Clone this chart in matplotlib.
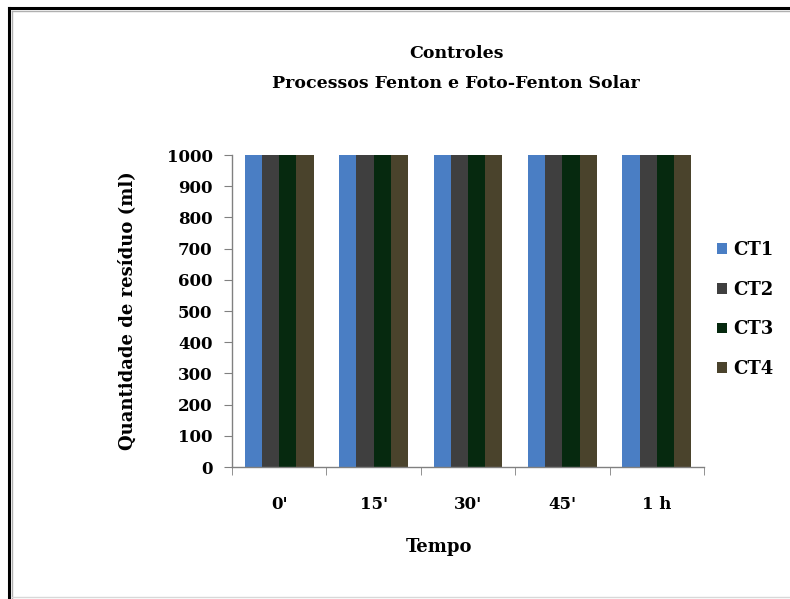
import matplotlib
matplotlib.use("Agg")
import matplotlib.pyplot as plt
import numpy as np
from matplotlib.lines import Line2D

categories = ["0'", "15'", "30'", "45'", "1 h"]
series_names = ["CT1", "CT2", "CT3", "CT4"]
ct1 = [1000, 1000, 1000, 1000, 1000]
ct2 = [1000, 1000, 1000, 1000, 1000]
ct3 = [1000, 1000, 1000, 1000, 1000]
ct4 = [1000, 1000, 1000, 1000, 1000]
colors = ["#4A7EC4", "#3F3F3F", "#06290F", "#4A432C"]

plt.rcParams["font.family"] = ["DejaVu Serif"]
plt.rcParams["font.weight"] = "bold"

fig = plt.figure(figsize=(7.90, 5.99), dpi=100)
ax = fig.add_axes([232 / 790, 1 - 467 / 599, 472 / 790, 312 / 599])

x = np.arange(len(categories))
group_w = 0.73
bw = group_w / 4
for i, (vals, name) in enumerate(zip([ct1, ct2, ct3, ct4], series_names)):
    ax.bar(x - group_w / 2 + bw * (i + 0.5), vals, width=bw, color=colors[i],
           label=name, linewidth=0)

ax.set_xlim(-0.5, len(categories) - 0.5)
ax.set_ylim(0, 1000)
ax.set_yticks(np.arange(0, 1001, 100))
ax.set_xticks(x)
ax.set_xticklabels(categories)
ax.set_xticks(np.arange(-0.5, len(categories), 1), minor=True)
ax.tick_params(axis="x", which="major", length=0, pad=21, labelsize=12)
ax.tick_params(axis="x", which="minor", length=6, color="#808080", direction="out")
ax.tick_params(axis="y", length=6, color="#808080", direction="out", labelsize=12, pad=8)
for lab in ax.get_xticklabels() + ax.get_yticklabels():
    lab.set_fontweight("bold")

for s in ["top", "right"]:
    ax.spines[s].set_visible(False)
for s in ["left", "bottom"]:
    ax.spines[s].set_color("#808080")
    ax.spines[s].set_linewidth(1.0)

ax.set_ylabel("Quantidade de resíduo (ml)", fontsize=13, fontweight="bold")
ax.yaxis.set_label_coords((128 - 232) / 472, 0.5)
ax.set_xlabel("Tempo", fontsize=13, fontweight="bold")
ax.xaxis.set_label_coords((439 - 232) / 472, (467 - 547) / 312)
ax.xaxis.label.set_va("center")
ax.yaxis.label.set_va("center")

fig.text(457 / 790, 1 - 53 / 599, "Controles", ha="center", va="center",
         fontsize=12.5, fontweight="bold")
fig.text(456 / 790, 1 - 83 / 599, "Processos Fenton e Foto-Fenton Solar", ha="center",
         va="center", fontsize=12.5, fontweight="bold")

leg = fig.legend(loc="upper left", bbox_to_anchor=(717 / 790, 1 - 241 / 599),
                 frameon=False, fontsize=13, handlelength=0.55, handleheight=0.55,
                 handletextpad=0.35, labelspacing=1.2, borderpad=0, borderaxespad=0)
for t in leg.get_texts():
    t.set_fontweight("bold")

# outer frame
fig.add_artist(Line2D([9 / 790, 1.0], [1 - 8 / 599, 1 - 8 / 599], color="black",
                      linewidth=2.2, transform=fig.transFigure))
fig.add_artist(Line2D([9 / 790, 9 / 790], [0, 1 - 8 / 599], color="black",
                      linewidth=2.2, transform=fig.transFigure))
fig.add_artist(Line2D([12 / 790, 1.0], [1 - 11 / 599, 1 - 11 / 599], color="#b0b0b0",
                      linewidth=1.0, transform=fig.transFigure))
fig.add_artist(Line2D([12 / 790, 12 / 790], [0, 1 - 11 / 599], color="#b0b0b0",
                      linewidth=1.0, transform=fig.transFigure))
fig.add_artist(Line2D([12 / 790, 1.0], [1 - 597 / 599, 1 - 597 / 599], color="#d8d8d8",
                      linewidth=1.0, transform=fig.transFigure))

fig.savefig("out.png", dpi=100)
